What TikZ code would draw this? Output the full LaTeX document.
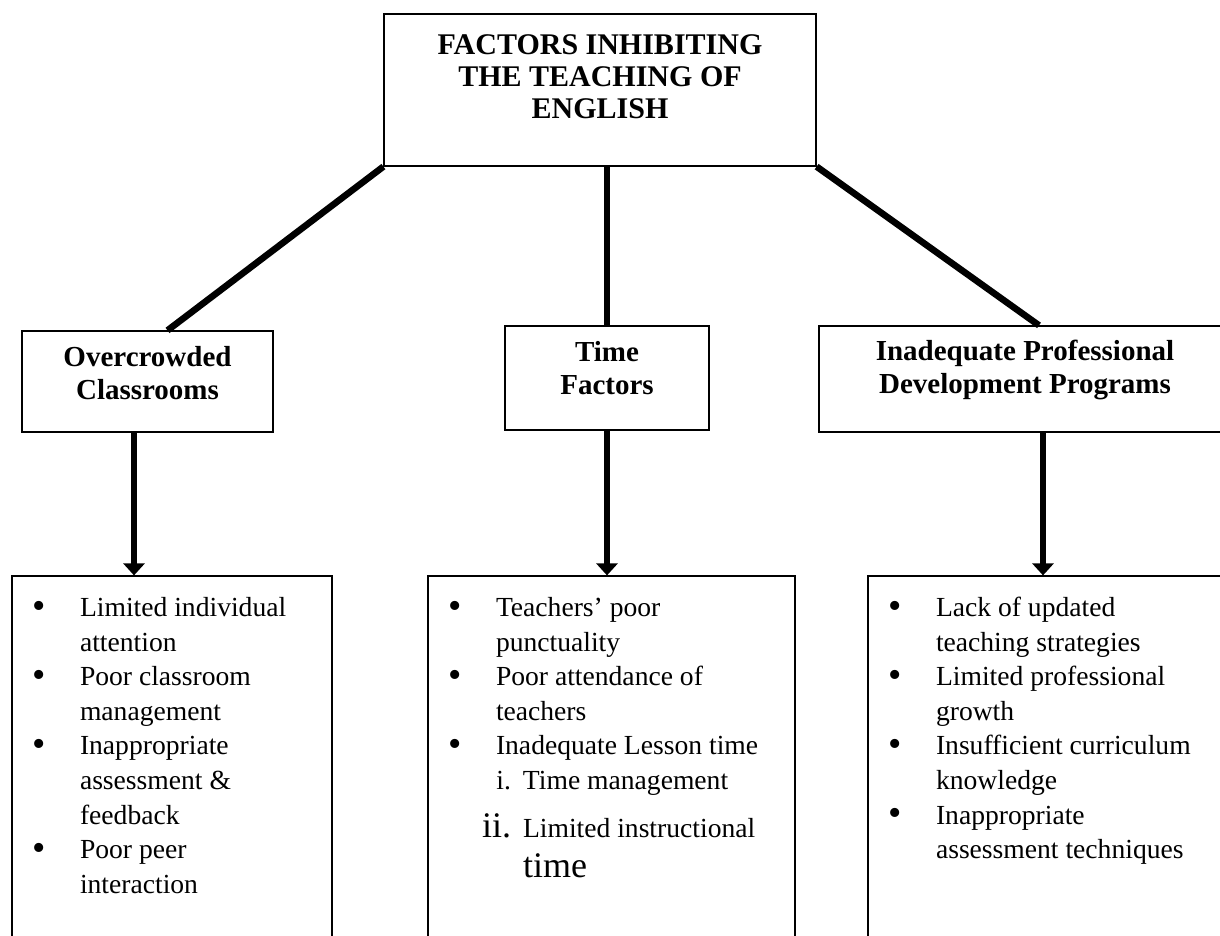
\documentclass[tikz,border=0pt]{standalone}
\usepackage{fontspec}
\setmainfont{Liberation Serif}
\usetikzlibrary{arrows.meta}
\newcommand{\bul}{\raisebox{-0.8pt}{\fontsize{19}{19}\selectfont\textbullet}}

\begin{document}
\begin{tikzpicture}[x=0.5pt,y=-0.5pt,
	box/.style={draw,line width=0.6pt,inner sep=0pt},
	head/.style={font=\bfseries\fontsize{14.5}{16.5}\selectfont,align=center,inner sep=0pt,anchor=north},
	items/.style={font=\fontsize{13.8}{17.3}\selectfont,inner sep=0pt,anchor=north west},
	link/.style={line width=3.3pt},
	arr/.style={line width=2.7pt,-{Triangle[width=10.5pt,length=6pt]}}]
		\useasboundingbox (0,0) rectangle (1220,936);
		\clip (0,0) rectangle (1220,936);
		
		\node[box,minimum width=216pt,minimum height=76pt] (top) at (600,90) {};
		\node[head,font=\bfseries\fontsize{15}{16}\selectfont] (title) at ([yshift=-10.5pt]top.north)
		{FACTORS INHIBITING\\THE TEACHING OF\\ENGLISH};
		
		\node[box,minimum width=125.5pt,minimum height=50.5pt] (c1) at (147.5,381.5) {};
		\node[box,minimum width=102pt,minimum height=52pt] (c2) at (607,378) {};
		\node[box,minimum width=206pt,minimum height=53pt] (c3) at (1025,379) {};
		\node[head] (h1) at ([yshift=-8pt]c1.north) {Overcrowded\\Classrooms};
		\node[head] (h2) at ([yshift=-8pt]c2.north) {Time\\Factors};
		\node[head] (h3) at ([yshift=-7pt]c3.north) {Inadequate Professional\\Development Programs};
		
		\draw[link](top.south west)--([xshift=10pt]c1.north);
		\draw[link](c2.north |- top.south)--(c2.north);
		\draw[link](top.south east)--([xshift=7pt]c3.north);
		
		\node[box,minimum width=160pt,minimum height=212pt] (l1) at (172,788) {};
		\node[box,minimum width=183.5pt,minimum height=212pt] (l2) at (611.5,788) {};
		\node[box,minimum width=200pt,minimum height=212pt] (l3) at (1068,788) {};
		
		\draw[arr]([xshift=-6.75pt]c1.south)--([xshift=-6.75pt]c1.south |- l1.north);
		\draw[arr](c2.south)--(c2.south |- l2.north);
		\draw[arr]([xshift=9pt]c3.south)--([xshift=9pt]c3.south |- l3.north);
		
		\node[items] (t1) at ([xshift=10.3pt,yshift=-8.2pt]l1.north west) {%
			\begin{tabular}{@{}p{23.8pt}@{}l@{}}
				\bul & Limited individual\\
				& attention\\
				\bul & Poor classroom\\
				& management\\
				\bul & Inappropriate\\
				& assessment \&\\
				& feedback\\
				\bul & Poor peer\\
				& interaction
		\end{tabular}};
		\node[items] (t2) at ([xshift=10.3pt,yshift=-8.2pt]l2.north west) {%
			\begin{tabular}{@{}p{23.8pt}@{}l@{}}
				\bul & Teachers' poor\\
				& punctuality\\
				\bul & Poor attendance of\\
				& teachers\\
				\bul & Inadequate Lesson time\\
				& \makebox[7.5pt][r]{i.}\hspace{6pt}Time management\\[6.5pt]
				& \makebox[7.5pt][r]{\fontsize{18}{20}\selectfont ii.}\hspace{6pt}Limited instructional\\[3pt]
				& \hspace{13.5pt}{\fontsize{18}{20}\selectfont time}
		\end{tabular}};
		\node[items] (t3) at ([xshift=10.3pt,yshift=-8.2pt]l3.north west) {%
			\begin{tabular}{@{}p{23.8pt}@{}l@{}}
				\bul & Lack of updated\\
				& teaching strategies\\
				\bul & Limited professional\\
				& growth\\
				\bul & Insufficient curriculum\\
				& knowledge\\
				\bul & Inappropriate\\
				& assessment techniques
		\end{tabular}};
\end{tikzpicture}
\end{document}
